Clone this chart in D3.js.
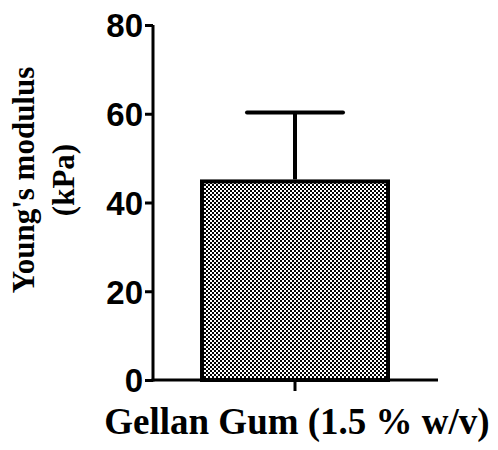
<!DOCTYPE html>
<html>
<head>
<meta charset="utf-8">
<script src="https://cdn.jsdelivr.net/npm/d3@7"></script>
<style>
  html, body { margin: 0; padding: 0; background: #fff; }
</style>
</head>
<body>
<script>
const categories = ["Gellan Gum (1.5 % w/v)"];
const means = [45.2];
const sdUpper = [60.3];
const yTicks = [0, 20, 40, 60, 80];

const W = 498, H = 450;
const svg = d3.select("body").append("svg").attr("width", W).attr("height", H);

const defs = svg.append("defs");
const pat = defs.append("pattern").attr("id", "checker")
  .attr("patternUnits", "userSpaceOnUse").attr("width", 4).attr("height", 4);
pat.append("rect").attr("width", 4).attr("height", 4).attr("fill", "#fff");
pat.append("rect").attr("x", 0).attr("y", 0).attr("width", 2).attr("height", 2).attr("fill", "#000");
pat.append("rect").attr("x", 2).attr("y", 2).attr("width", 2).attr("height", 2).attr("fill", "#000");

const x0 = 153, x1 = 438;
const y = d3.scaleLinear().domain([0, 80]).range([380, 25]);
const x = d3.scaleBand().domain(categories).range([200, 390]).padding(0);

// bar
svg.selectAll("rect.bar").data(categories).enter().append("rect")
  .attr("x", d => x(d) + 2)
  .attr("y", (d, i) => y(means[i]) + 2)
  .attr("width", x.bandwidth() - 4)
  .attr("height", (d, i) => y(0) - y(means[i]) - 2)
  .attr("fill", "url(#checker)")
  .attr("stroke", "#000").attr("stroke-width", 4);

// error bar
categories.forEach((c, i) => {
  const cx = x(c) + x.bandwidth() / 2;
  svg.append("line").attr("x1", cx).attr("x2", cx)
    .attr("y1", y(means[i])).attr("y2", y(sdUpper[i]))
    .attr("stroke", "#000").attr("stroke-width", 4);
  svg.append("line").attr("x1", cx - 48).attr("x2", cx + 48)
    .attr("y1", y(sdUpper[i])).attr("y2", y(sdUpper[i]))
    .attr("stroke", "#000").attr("stroke-width", 4).attr("stroke-linecap", "round");
});

// y axis
const yAxis = d3.axisLeft(y).tickValues(yTicks).tickSize(8).tickPadding(2).tickFormat(d3.format("d"));
const gy = svg.append("g").attr("transform", `translate(${x0},0)`).call(yAxis);
gy.select(".domain").attr("stroke-width", 3).attr("d", `M0,${y(80)}V${y(0)+1.5}`);
gy.selectAll(".tick line").attr("stroke-width", 3);
gy.selectAll(".tick text")
  .attr("font-family", "Liberation Sans, Arial, sans-serif")
  .attr("font-weight", "bold").attr("font-size", 33).attr("fill", "#000")
  .attr("dy", "0.36em");

// x axis
const xAxis = d3.axisBottom(x).tickSize(11).tickFormat("");
const gx = svg.append("g").attr("transform", `translate(0,${y(0)})`).call(xAxis);
gx.select(".domain").attr("stroke-width", 3).attr("d", `M${x0 - 1.5},0H${x1}`);
gx.selectAll(".tick line").attr("stroke-width", 3);

// x title
svg.append("text").attr("x", 297).attr("y", 434)
  .attr("text-anchor", "middle")
  .attr("font-family", "Liberation Serif, Times New Roman, serif")
  .attr("font-weight", "bold").attr("font-size", 37)
  .text(categories[0]);

// y title
const yt = svg.append("text").attr("transform", "translate(0,180) rotate(-90)")
  .attr("text-anchor", "middle")
  .attr("font-family", "Liberation Serif, Times New Roman, serif")
  .attr("font-weight", "bold").attr("font-size", 31);
yt.append("tspan").attr("x", 0).attr("y", 34).text("Young's modulus");
yt.append("tspan").attr("x", 0).attr("y", 74).text("(kPa)");
</script>
</body>
</html>
